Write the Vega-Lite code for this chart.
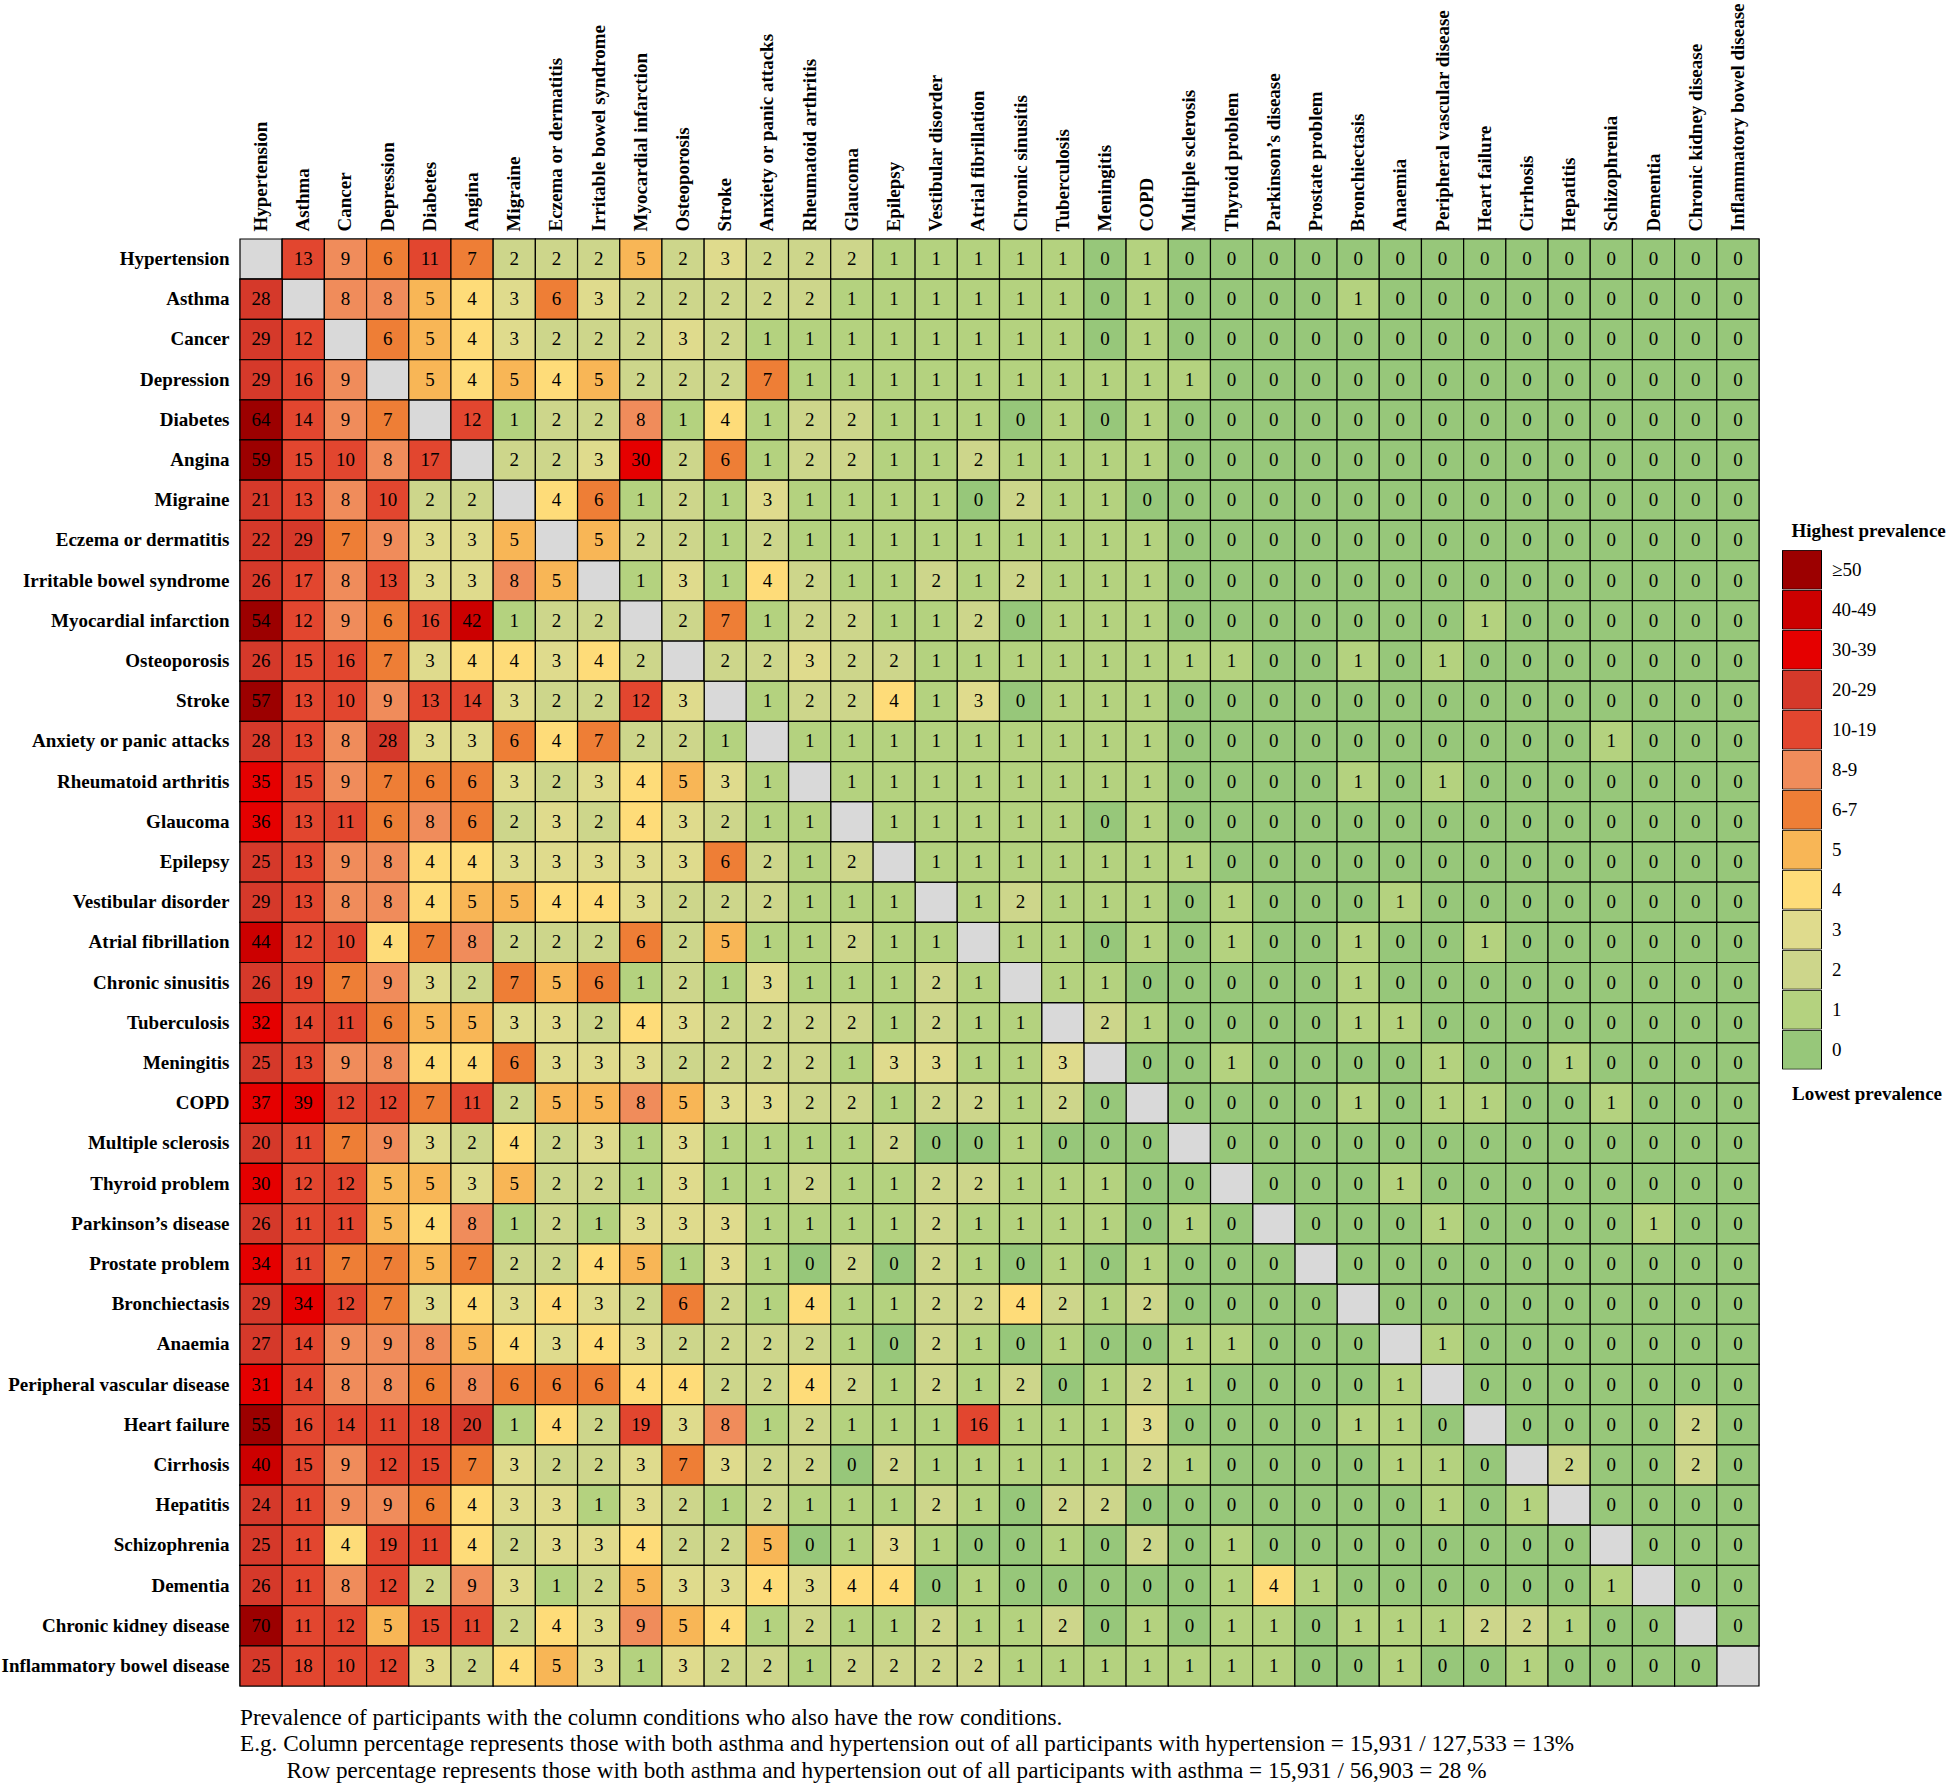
{
"$schema":"https://vega.github.io/schema/vega-lite/v6.json",
"autosize":{"type":"none"},
"width":1519,"height":1447,
"padding":{"left":240,"top":239,"right":187,"bottom":99},
"background":"white",
"config":{"view":{"stroke":null},"font":"Liberation Serif"},
"title":{"text":["Prevalence of participants with the column conditions who also have the row conditions.","E.g. Column percentage represents those with both asthma and hypertension out of all participants with hypertension = 15,931 / 127,533 = 13%","\u200b\u00a0\u00a0\u00a0\u00a0\u00a0\u00a0\u00a0\u00a0Row percentage represents those with both asthma and hypertension out of all participants with asthma = 15,931 / 56,903 = 28 %"],"orient":"bottom","anchor":"start","frame":"group","font":"Liberation Serif","fontSize":23.2,"fontWeight":"normal","color":"black","lineHeight":26.5,"offset":20,"baseline":"top"},
"datasets":{
"names":[{"i":0,"name":"Hypertension"},{"i":1,"name":"Asthma"},{"i":2,"name":"Cancer"},{"i":3,"name":"Depression"},{"i":4,"name":"Diabetes"},{"i":5,"name":"Angina"},{"i":6,"name":"Migraine"},{"i":7,"name":"Eczema or dermatitis"},{"i":8,"name":"Irritable bowel syndrome"},{"i":9,"name":"Myocardial infarction"},{"i":10,"name":"Osteoporosis"},{"i":11,"name":"Stroke"},{"i":12,"name":"Anxiety or panic attacks"},{"i":13,"name":"Rheumatoid arthritis"},{"i":14,"name":"Glaucoma"},{"i":15,"name":"Epilepsy"},{"i":16,"name":"Vestibular disorder"},{"i":17,"name":"Atrial fibrillation"},{"i":18,"name":"Chronic sinusitis"},{"i":19,"name":"Tuberculosis"},{"i":20,"name":"Meningitis"},{"i":21,"name":"COPD"},{"i":22,"name":"Multiple sclerosis"},{"i":23,"name":"Thyroid problem"},{"i":24,"name":"Parkinson’s disease"},{"i":25,"name":"Prostate problem"},{"i":26,"name":"Bronchiectasis"},{"i":27,"name":"Anaemia"},{"i":28,"name":"Peripheral vascular disease"},{"i":29,"name":"Heart failure"},{"i":30,"name":"Cirrhosis"},{"i":31,"name":"Hepatitis"},{"i":32,"name":"Schizophrenia"},{"i":33,"name":"Dementia"},{"i":34,"name":"Chronic kidney disease"},{"i":35,"name":"Inflammatory bowel disease"}],
"cells":[
{"r":0,"c":0,"v":null},{"r":0,"c":1,"v":13},{"r":0,"c":2,"v":9},{"r":0,"c":3,"v":6},{"r":0,"c":4,"v":11},{"r":0,"c":5,"v":7},{"r":0,"c":6,"v":2},{"r":0,"c":7,"v":2},{"r":0,"c":8,"v":2},{"r":0,"c":9,"v":5},{"r":0,"c":10,"v":2},{"r":0,"c":11,"v":3},{"r":0,"c":12,"v":2},{"r":0,"c":13,"v":2},{"r":0,"c":14,"v":2},{"r":0,"c":15,"v":1},{"r":0,"c":16,"v":1},{"r":0,"c":17,"v":1},{"r":0,"c":18,"v":1},{"r":0,"c":19,"v":1},{"r":0,"c":20,"v":0},{"r":0,"c":21,"v":1},{"r":0,"c":22,"v":0},{"r":0,"c":23,"v":0},{"r":0,"c":24,"v":0},{"r":0,"c":25,"v":0},{"r":0,"c":26,"v":0},{"r":0,"c":27,"v":0},{"r":0,"c":28,"v":0},{"r":0,"c":29,"v":0},{"r":0,"c":30,"v":0},{"r":0,"c":31,"v":0},{"r":0,"c":32,"v":0},{"r":0,"c":33,"v":0},{"r":0,"c":34,"v":0},{"r":0,"c":35,"v":0},
{"r":1,"c":0,"v":28},{"r":1,"c":1,"v":null},{"r":1,"c":2,"v":8},{"r":1,"c":3,"v":8},{"r":1,"c":4,"v":5},{"r":1,"c":5,"v":4},{"r":1,"c":6,"v":3},{"r":1,"c":7,"v":6},{"r":1,"c":8,"v":3},{"r":1,"c":9,"v":2},{"r":1,"c":10,"v":2},{"r":1,"c":11,"v":2},{"r":1,"c":12,"v":2},{"r":1,"c":13,"v":2},{"r":1,"c":14,"v":1},{"r":1,"c":15,"v":1},{"r":1,"c":16,"v":1},{"r":1,"c":17,"v":1},{"r":1,"c":18,"v":1},{"r":1,"c":19,"v":1},{"r":1,"c":20,"v":0},{"r":1,"c":21,"v":1},{"r":1,"c":22,"v":0},{"r":1,"c":23,"v":0},{"r":1,"c":24,"v":0},{"r":1,"c":25,"v":0},{"r":1,"c":26,"v":1},{"r":1,"c":27,"v":0},{"r":1,"c":28,"v":0},{"r":1,"c":29,"v":0},{"r":1,"c":30,"v":0},{"r":1,"c":31,"v":0},{"r":1,"c":32,"v":0},{"r":1,"c":33,"v":0},{"r":1,"c":34,"v":0},{"r":1,"c":35,"v":0},
{"r":2,"c":0,"v":29},{"r":2,"c":1,"v":12},{"r":2,"c":2,"v":null},{"r":2,"c":3,"v":6},{"r":2,"c":4,"v":5},{"r":2,"c":5,"v":4},{"r":2,"c":6,"v":3},{"r":2,"c":7,"v":2},{"r":2,"c":8,"v":2},{"r":2,"c":9,"v":2},{"r":2,"c":10,"v":3},{"r":2,"c":11,"v":2},{"r":2,"c":12,"v":1},{"r":2,"c":13,"v":1},{"r":2,"c":14,"v":1},{"r":2,"c":15,"v":1},{"r":2,"c":16,"v":1},{"r":2,"c":17,"v":1},{"r":2,"c":18,"v":1},{"r":2,"c":19,"v":1},{"r":2,"c":20,"v":0},{"r":2,"c":21,"v":1},{"r":2,"c":22,"v":0},{"r":2,"c":23,"v":0},{"r":2,"c":24,"v":0},{"r":2,"c":25,"v":0},{"r":2,"c":26,"v":0},{"r":2,"c":27,"v":0},{"r":2,"c":28,"v":0},{"r":2,"c":29,"v":0},{"r":2,"c":30,"v":0},{"r":2,"c":31,"v":0},{"r":2,"c":32,"v":0},{"r":2,"c":33,"v":0},{"r":2,"c":34,"v":0},{"r":2,"c":35,"v":0},
{"r":3,"c":0,"v":29},{"r":3,"c":1,"v":16},{"r":3,"c":2,"v":9},{"r":3,"c":3,"v":null},{"r":3,"c":4,"v":5},{"r":3,"c":5,"v":4},{"r":3,"c":6,"v":5},{"r":3,"c":7,"v":4},{"r":3,"c":8,"v":5},{"r":3,"c":9,"v":2},{"r":3,"c":10,"v":2},{"r":3,"c":11,"v":2},{"r":3,"c":12,"v":7},{"r":3,"c":13,"v":1},{"r":3,"c":14,"v":1},{"r":3,"c":15,"v":1},{"r":3,"c":16,"v":1},{"r":3,"c":17,"v":1},{"r":3,"c":18,"v":1},{"r":3,"c":19,"v":1},{"r":3,"c":20,"v":1},{"r":3,"c":21,"v":1},{"r":3,"c":22,"v":1},{"r":3,"c":23,"v":0},{"r":3,"c":24,"v":0},{"r":3,"c":25,"v":0},{"r":3,"c":26,"v":0},{"r":3,"c":27,"v":0},{"r":3,"c":28,"v":0},{"r":3,"c":29,"v":0},{"r":3,"c":30,"v":0},{"r":3,"c":31,"v":0},{"r":3,"c":32,"v":0},{"r":3,"c":33,"v":0},{"r":3,"c":34,"v":0},{"r":3,"c":35,"v":0},
{"r":4,"c":0,"v":64},{"r":4,"c":1,"v":14},{"r":4,"c":2,"v":9},{"r":4,"c":3,"v":7},{"r":4,"c":4,"v":null},{"r":4,"c":5,"v":12},{"r":4,"c":6,"v":1},{"r":4,"c":7,"v":2},{"r":4,"c":8,"v":2},{"r":4,"c":9,"v":8},{"r":4,"c":10,"v":1},{"r":4,"c":11,"v":4},{"r":4,"c":12,"v":1},{"r":4,"c":13,"v":2},{"r":4,"c":14,"v":2},{"r":4,"c":15,"v":1},{"r":4,"c":16,"v":1},{"r":4,"c":17,"v":1},{"r":4,"c":18,"v":0},{"r":4,"c":19,"v":1},{"r":4,"c":20,"v":0},{"r":4,"c":21,"v":1},{"r":4,"c":22,"v":0},{"r":4,"c":23,"v":0},{"r":4,"c":24,"v":0},{"r":4,"c":25,"v":0},{"r":4,"c":26,"v":0},{"r":4,"c":27,"v":0},{"r":4,"c":28,"v":0},{"r":4,"c":29,"v":0},{"r":4,"c":30,"v":0},{"r":4,"c":31,"v":0},{"r":4,"c":32,"v":0},{"r":4,"c":33,"v":0},{"r":4,"c":34,"v":0},{"r":4,"c":35,"v":0},
{"r":5,"c":0,"v":59},{"r":5,"c":1,"v":15},{"r":5,"c":2,"v":10},{"r":5,"c":3,"v":8},{"r":5,"c":4,"v":17},{"r":5,"c":5,"v":null},{"r":5,"c":6,"v":2},{"r":5,"c":7,"v":2},{"r":5,"c":8,"v":3},{"r":5,"c":9,"v":30},{"r":5,"c":10,"v":2},{"r":5,"c":11,"v":6},{"r":5,"c":12,"v":1},{"r":5,"c":13,"v":2},{"r":5,"c":14,"v":2},{"r":5,"c":15,"v":1},{"r":5,"c":16,"v":1},{"r":5,"c":17,"v":2},{"r":5,"c":18,"v":1},{"r":5,"c":19,"v":1},{"r":5,"c":20,"v":1},{"r":5,"c":21,"v":1},{"r":5,"c":22,"v":0},{"r":5,"c":23,"v":0},{"r":5,"c":24,"v":0},{"r":5,"c":25,"v":0},{"r":5,"c":26,"v":0},{"r":5,"c":27,"v":0},{"r":5,"c":28,"v":0},{"r":5,"c":29,"v":0},{"r":5,"c":30,"v":0},{"r":5,"c":31,"v":0},{"r":5,"c":32,"v":0},{"r":5,"c":33,"v":0},{"r":5,"c":34,"v":0},{"r":5,"c":35,"v":0},
{"r":6,"c":0,"v":21},{"r":6,"c":1,"v":13},{"r":6,"c":2,"v":8},{"r":6,"c":3,"v":10},{"r":6,"c":4,"v":2},{"r":6,"c":5,"v":2},{"r":6,"c":6,"v":null},{"r":6,"c":7,"v":4},{"r":6,"c":8,"v":6},{"r":6,"c":9,"v":1},{"r":6,"c":10,"v":2},{"r":6,"c":11,"v":1},{"r":6,"c":12,"v":3},{"r":6,"c":13,"v":1},{"r":6,"c":14,"v":1},{"r":6,"c":15,"v":1},{"r":6,"c":16,"v":1},{"r":6,"c":17,"v":0},{"r":6,"c":18,"v":2},{"r":6,"c":19,"v":1},{"r":6,"c":20,"v":1},{"r":6,"c":21,"v":0},{"r":6,"c":22,"v":0},{"r":6,"c":23,"v":0},{"r":6,"c":24,"v":0},{"r":6,"c":25,"v":0},{"r":6,"c":26,"v":0},{"r":6,"c":27,"v":0},{"r":6,"c":28,"v":0},{"r":6,"c":29,"v":0},{"r":6,"c":30,"v":0},{"r":6,"c":31,"v":0},{"r":6,"c":32,"v":0},{"r":6,"c":33,"v":0},{"r":6,"c":34,"v":0},{"r":6,"c":35,"v":0},
{"r":7,"c":0,"v":22},{"r":7,"c":1,"v":29},{"r":7,"c":2,"v":7},{"r":7,"c":3,"v":9},{"r":7,"c":4,"v":3},{"r":7,"c":5,"v":3},{"r":7,"c":6,"v":5},{"r":7,"c":7,"v":null},{"r":7,"c":8,"v":5},{"r":7,"c":9,"v":2},{"r":7,"c":10,"v":2},{"r":7,"c":11,"v":1},{"r":7,"c":12,"v":2},{"r":7,"c":13,"v":1},{"r":7,"c":14,"v":1},{"r":7,"c":15,"v":1},{"r":7,"c":16,"v":1},{"r":7,"c":17,"v":1},{"r":7,"c":18,"v":1},{"r":7,"c":19,"v":1},{"r":7,"c":20,"v":1},{"r":7,"c":21,"v":1},{"r":7,"c":22,"v":0},{"r":7,"c":23,"v":0},{"r":7,"c":24,"v":0},{"r":7,"c":25,"v":0},{"r":7,"c":26,"v":0},{"r":7,"c":27,"v":0},{"r":7,"c":28,"v":0},{"r":7,"c":29,"v":0},{"r":7,"c":30,"v":0},{"r":7,"c":31,"v":0},{"r":7,"c":32,"v":0},{"r":7,"c":33,"v":0},{"r":7,"c":34,"v":0},{"r":7,"c":35,"v":0},
{"r":8,"c":0,"v":26},{"r":8,"c":1,"v":17},{"r":8,"c":2,"v":8},{"r":8,"c":3,"v":13},{"r":8,"c":4,"v":3},{"r":8,"c":5,"v":3},{"r":8,"c":6,"v":8},{"r":8,"c":7,"v":5},{"r":8,"c":8,"v":null},{"r":8,"c":9,"v":1},{"r":8,"c":10,"v":3},{"r":8,"c":11,"v":1},{"r":8,"c":12,"v":4},{"r":8,"c":13,"v":2},{"r":8,"c":14,"v":1},{"r":8,"c":15,"v":1},{"r":8,"c":16,"v":2},{"r":8,"c":17,"v":1},{"r":8,"c":18,"v":2},{"r":8,"c":19,"v":1},{"r":8,"c":20,"v":1},{"r":8,"c":21,"v":1},{"r":8,"c":22,"v":0},{"r":8,"c":23,"v":0},{"r":8,"c":24,"v":0},{"r":8,"c":25,"v":0},{"r":8,"c":26,"v":0},{"r":8,"c":27,"v":0},{"r":8,"c":28,"v":0},{"r":8,"c":29,"v":0},{"r":8,"c":30,"v":0},{"r":8,"c":31,"v":0},{"r":8,"c":32,"v":0},{"r":8,"c":33,"v":0},{"r":8,"c":34,"v":0},{"r":8,"c":35,"v":0},
{"r":9,"c":0,"v":54},{"r":9,"c":1,"v":12},{"r":9,"c":2,"v":9},{"r":9,"c":3,"v":6},{"r":9,"c":4,"v":16},{"r":9,"c":5,"v":42},{"r":9,"c":6,"v":1},{"r":9,"c":7,"v":2},{"r":9,"c":8,"v":2},{"r":9,"c":9,"v":null},{"r":9,"c":10,"v":2},{"r":9,"c":11,"v":7},{"r":9,"c":12,"v":1},{"r":9,"c":13,"v":2},{"r":9,"c":14,"v":2},{"r":9,"c":15,"v":1},{"r":9,"c":16,"v":1},{"r":9,"c":17,"v":2},{"r":9,"c":18,"v":0},{"r":9,"c":19,"v":1},{"r":9,"c":20,"v":1},{"r":9,"c":21,"v":1},{"r":9,"c":22,"v":0},{"r":9,"c":23,"v":0},{"r":9,"c":24,"v":0},{"r":9,"c":25,"v":0},{"r":9,"c":26,"v":0},{"r":9,"c":27,"v":0},{"r":9,"c":28,"v":0},{"r":9,"c":29,"v":1},{"r":9,"c":30,"v":0},{"r":9,"c":31,"v":0},{"r":9,"c":32,"v":0},{"r":9,"c":33,"v":0},{"r":9,"c":34,"v":0},{"r":9,"c":35,"v":0},
{"r":10,"c":0,"v":26},{"r":10,"c":1,"v":15},{"r":10,"c":2,"v":16},{"r":10,"c":3,"v":7},{"r":10,"c":4,"v":3},{"r":10,"c":5,"v":4},{"r":10,"c":6,"v":4},{"r":10,"c":7,"v":3},{"r":10,"c":8,"v":4},{"r":10,"c":9,"v":2},{"r":10,"c":10,"v":null},{"r":10,"c":11,"v":2},{"r":10,"c":12,"v":2},{"r":10,"c":13,"v":3},{"r":10,"c":14,"v":2},{"r":10,"c":15,"v":2},{"r":10,"c":16,"v":1},{"r":10,"c":17,"v":1},{"r":10,"c":18,"v":1},{"r":10,"c":19,"v":1},{"r":10,"c":20,"v":1},{"r":10,"c":21,"v":1},{"r":10,"c":22,"v":1},{"r":10,"c":23,"v":1},{"r":10,"c":24,"v":0},{"r":10,"c":25,"v":0},{"r":10,"c":26,"v":1},{"r":10,"c":27,"v":0},{"r":10,"c":28,"v":1},{"r":10,"c":29,"v":0},{"r":10,"c":30,"v":0},{"r":10,"c":31,"v":0},{"r":10,"c":32,"v":0},{"r":10,"c":33,"v":0},{"r":10,"c":34,"v":0},{"r":10,"c":35,"v":0},
{"r":11,"c":0,"v":57},{"r":11,"c":1,"v":13},{"r":11,"c":2,"v":10},{"r":11,"c":3,"v":9},{"r":11,"c":4,"v":13},{"r":11,"c":5,"v":14},{"r":11,"c":6,"v":3},{"r":11,"c":7,"v":2},{"r":11,"c":8,"v":2},{"r":11,"c":9,"v":12},{"r":11,"c":10,"v":3},{"r":11,"c":11,"v":null},{"r":11,"c":12,"v":1},{"r":11,"c":13,"v":2},{"r":11,"c":14,"v":2},{"r":11,"c":15,"v":4},{"r":11,"c":16,"v":1},{"r":11,"c":17,"v":3},{"r":11,"c":18,"v":0},{"r":11,"c":19,"v":1},{"r":11,"c":20,"v":1},{"r":11,"c":21,"v":1},{"r":11,"c":22,"v":0},{"r":11,"c":23,"v":0},{"r":11,"c":24,"v":0},{"r":11,"c":25,"v":0},{"r":11,"c":26,"v":0},{"r":11,"c":27,"v":0},{"r":11,"c":28,"v":0},{"r":11,"c":29,"v":0},{"r":11,"c":30,"v":0},{"r":11,"c":31,"v":0},{"r":11,"c":32,"v":0},{"r":11,"c":33,"v":0},{"r":11,"c":34,"v":0},{"r":11,"c":35,"v":0},
{"r":12,"c":0,"v":28},{"r":12,"c":1,"v":13},{"r":12,"c":2,"v":8},{"r":12,"c":3,"v":28},{"r":12,"c":4,"v":3},{"r":12,"c":5,"v":3},{"r":12,"c":6,"v":6},{"r":12,"c":7,"v":4},{"r":12,"c":8,"v":7},{"r":12,"c":9,"v":2},{"r":12,"c":10,"v":2},{"r":12,"c":11,"v":1},{"r":12,"c":12,"v":null},{"r":12,"c":13,"v":1},{"r":12,"c":14,"v":1},{"r":12,"c":15,"v":1},{"r":12,"c":16,"v":1},{"r":12,"c":17,"v":1},{"r":12,"c":18,"v":1},{"r":12,"c":19,"v":1},{"r":12,"c":20,"v":1},{"r":12,"c":21,"v":1},{"r":12,"c":22,"v":0},{"r":12,"c":23,"v":0},{"r":12,"c":24,"v":0},{"r":12,"c":25,"v":0},{"r":12,"c":26,"v":0},{"r":12,"c":27,"v":0},{"r":12,"c":28,"v":0},{"r":12,"c":29,"v":0},{"r":12,"c":30,"v":0},{"r":12,"c":31,"v":0},{"r":12,"c":32,"v":1},{"r":12,"c":33,"v":0},{"r":12,"c":34,"v":0},{"r":12,"c":35,"v":0},
{"r":13,"c":0,"v":35},{"r":13,"c":1,"v":15},{"r":13,"c":2,"v":9},{"r":13,"c":3,"v":7},{"r":13,"c":4,"v":6},{"r":13,"c":5,"v":6},{"r":13,"c":6,"v":3},{"r":13,"c":7,"v":2},{"r":13,"c":8,"v":3},{"r":13,"c":9,"v":4},{"r":13,"c":10,"v":5},{"r":13,"c":11,"v":3},{"r":13,"c":12,"v":1},{"r":13,"c":13,"v":null},{"r":13,"c":14,"v":1},{"r":13,"c":15,"v":1},{"r":13,"c":16,"v":1},{"r":13,"c":17,"v":1},{"r":13,"c":18,"v":1},{"r":13,"c":19,"v":1},{"r":13,"c":20,"v":1},{"r":13,"c":21,"v":1},{"r":13,"c":22,"v":0},{"r":13,"c":23,"v":0},{"r":13,"c":24,"v":0},{"r":13,"c":25,"v":0},{"r":13,"c":26,"v":1},{"r":13,"c":27,"v":0},{"r":13,"c":28,"v":1},{"r":13,"c":29,"v":0},{"r":13,"c":30,"v":0},{"r":13,"c":31,"v":0},{"r":13,"c":32,"v":0},{"r":13,"c":33,"v":0},{"r":13,"c":34,"v":0},{"r":13,"c":35,"v":0},
{"r":14,"c":0,"v":36},{"r":14,"c":1,"v":13},{"r":14,"c":2,"v":11},{"r":14,"c":3,"v":6},{"r":14,"c":4,"v":8},{"r":14,"c":5,"v":6},{"r":14,"c":6,"v":2},{"r":14,"c":7,"v":3},{"r":14,"c":8,"v":2},{"r":14,"c":9,"v":4},{"r":14,"c":10,"v":3},{"r":14,"c":11,"v":2},{"r":14,"c":12,"v":1},{"r":14,"c":13,"v":1},{"r":14,"c":14,"v":null},{"r":14,"c":15,"v":1},{"r":14,"c":16,"v":1},{"r":14,"c":17,"v":1},{"r":14,"c":18,"v":1},{"r":14,"c":19,"v":1},{"r":14,"c":20,"v":0},{"r":14,"c":21,"v":1},{"r":14,"c":22,"v":0},{"r":14,"c":23,"v":0},{"r":14,"c":24,"v":0},{"r":14,"c":25,"v":0},{"r":14,"c":26,"v":0},{"r":14,"c":27,"v":0},{"r":14,"c":28,"v":0},{"r":14,"c":29,"v":0},{"r":14,"c":30,"v":0},{"r":14,"c":31,"v":0},{"r":14,"c":32,"v":0},{"r":14,"c":33,"v":0},{"r":14,"c":34,"v":0},{"r":14,"c":35,"v":0},
{"r":15,"c":0,"v":25},{"r":15,"c":1,"v":13},{"r":15,"c":2,"v":9},{"r":15,"c":3,"v":8},{"r":15,"c":4,"v":4},{"r":15,"c":5,"v":4},{"r":15,"c":6,"v":3},{"r":15,"c":7,"v":3},{"r":15,"c":8,"v":3},{"r":15,"c":9,"v":3},{"r":15,"c":10,"v":3},{"r":15,"c":11,"v":6},{"r":15,"c":12,"v":2},{"r":15,"c":13,"v":1},{"r":15,"c":14,"v":2},{"r":15,"c":15,"v":null},{"r":15,"c":16,"v":1},{"r":15,"c":17,"v":1},{"r":15,"c":18,"v":1},{"r":15,"c":19,"v":1},{"r":15,"c":20,"v":1},{"r":15,"c":21,"v":1},{"r":15,"c":22,"v":1},{"r":15,"c":23,"v":0},{"r":15,"c":24,"v":0},{"r":15,"c":25,"v":0},{"r":15,"c":26,"v":0},{"r":15,"c":27,"v":0},{"r":15,"c":28,"v":0},{"r":15,"c":29,"v":0},{"r":15,"c":30,"v":0},{"r":15,"c":31,"v":0},{"r":15,"c":32,"v":0},{"r":15,"c":33,"v":0},{"r":15,"c":34,"v":0},{"r":15,"c":35,"v":0},
{"r":16,"c":0,"v":29},{"r":16,"c":1,"v":13},{"r":16,"c":2,"v":8},{"r":16,"c":3,"v":8},{"r":16,"c":4,"v":4},{"r":16,"c":5,"v":5},{"r":16,"c":6,"v":5},{"r":16,"c":7,"v":4},{"r":16,"c":8,"v":4},{"r":16,"c":9,"v":3},{"r":16,"c":10,"v":2},{"r":16,"c":11,"v":2},{"r":16,"c":12,"v":2},{"r":16,"c":13,"v":1},{"r":16,"c":14,"v":1},{"r":16,"c":15,"v":1},{"r":16,"c":16,"v":null},{"r":16,"c":17,"v":1},{"r":16,"c":18,"v":2},{"r":16,"c":19,"v":1},{"r":16,"c":20,"v":1},{"r":16,"c":21,"v":1},{"r":16,"c":22,"v":0},{"r":16,"c":23,"v":1},{"r":16,"c":24,"v":0},{"r":16,"c":25,"v":0},{"r":16,"c":26,"v":0},{"r":16,"c":27,"v":1},{"r":16,"c":28,"v":0},{"r":16,"c":29,"v":0},{"r":16,"c":30,"v":0},{"r":16,"c":31,"v":0},{"r":16,"c":32,"v":0},{"r":16,"c":33,"v":0},{"r":16,"c":34,"v":0},{"r":16,"c":35,"v":0},
{"r":17,"c":0,"v":44},{"r":17,"c":1,"v":12},{"r":17,"c":2,"v":10},{"r":17,"c":3,"v":4},{"r":17,"c":4,"v":7},{"r":17,"c":5,"v":8},{"r":17,"c":6,"v":2},{"r":17,"c":7,"v":2},{"r":17,"c":8,"v":2},{"r":17,"c":9,"v":6},{"r":17,"c":10,"v":2},{"r":17,"c":11,"v":5},{"r":17,"c":12,"v":1},{"r":17,"c":13,"v":1},{"r":17,"c":14,"v":2},{"r":17,"c":15,"v":1},{"r":17,"c":16,"v":1},{"r":17,"c":17,"v":null},{"r":17,"c":18,"v":1},{"r":17,"c":19,"v":1},{"r":17,"c":20,"v":0},{"r":17,"c":21,"v":1},{"r":17,"c":22,"v":0},{"r":17,"c":23,"v":1},{"r":17,"c":24,"v":0},{"r":17,"c":25,"v":0},{"r":17,"c":26,"v":1},{"r":17,"c":27,"v":0},{"r":17,"c":28,"v":0},{"r":17,"c":29,"v":1},{"r":17,"c":30,"v":0},{"r":17,"c":31,"v":0},{"r":17,"c":32,"v":0},{"r":17,"c":33,"v":0},{"r":17,"c":34,"v":0},{"r":17,"c":35,"v":0},
{"r":18,"c":0,"v":26},{"r":18,"c":1,"v":19},{"r":18,"c":2,"v":7},{"r":18,"c":3,"v":9},{"r":18,"c":4,"v":3},{"r":18,"c":5,"v":2},{"r":18,"c":6,"v":7},{"r":18,"c":7,"v":5},{"r":18,"c":8,"v":6},{"r":18,"c":9,"v":1},{"r":18,"c":10,"v":2},{"r":18,"c":11,"v":1},{"r":18,"c":12,"v":3},{"r":18,"c":13,"v":1},{"r":18,"c":14,"v":1},{"r":18,"c":15,"v":1},{"r":18,"c":16,"v":2},{"r":18,"c":17,"v":1},{"r":18,"c":18,"v":null},{"r":18,"c":19,"v":1},{"r":18,"c":20,"v":1},{"r":18,"c":21,"v":0},{"r":18,"c":22,"v":0},{"r":18,"c":23,"v":0},{"r":18,"c":24,"v":0},{"r":18,"c":25,"v":0},{"r":18,"c":26,"v":1},{"r":18,"c":27,"v":0},{"r":18,"c":28,"v":0},{"r":18,"c":29,"v":0},{"r":18,"c":30,"v":0},{"r":18,"c":31,"v":0},{"r":18,"c":32,"v":0},{"r":18,"c":33,"v":0},{"r":18,"c":34,"v":0},{"r":18,"c":35,"v":0},
{"r":19,"c":0,"v":32},{"r":19,"c":1,"v":14},{"r":19,"c":2,"v":11},{"r":19,"c":3,"v":6},{"r":19,"c":4,"v":5},{"r":19,"c":5,"v":5},{"r":19,"c":6,"v":3},{"r":19,"c":7,"v":3},{"r":19,"c":8,"v":2},{"r":19,"c":9,"v":4},{"r":19,"c":10,"v":3},{"r":19,"c":11,"v":2},{"r":19,"c":12,"v":2},{"r":19,"c":13,"v":2},{"r":19,"c":14,"v":2},{"r":19,"c":15,"v":1},{"r":19,"c":16,"v":2},{"r":19,"c":17,"v":1},{"r":19,"c":18,"v":1},{"r":19,"c":19,"v":null},{"r":19,"c":20,"v":2},{"r":19,"c":21,"v":1},{"r":19,"c":22,"v":0},{"r":19,"c":23,"v":0},{"r":19,"c":24,"v":0},{"r":19,"c":25,"v":0},{"r":19,"c":26,"v":1},{"r":19,"c":27,"v":1},{"r":19,"c":28,"v":0},{"r":19,"c":29,"v":0},{"r":19,"c":30,"v":0},{"r":19,"c":31,"v":0},{"r":19,"c":32,"v":0},{"r":19,"c":33,"v":0},{"r":19,"c":34,"v":0},{"r":19,"c":35,"v":0},
{"r":20,"c":0,"v":25},{"r":20,"c":1,"v":13},{"r":20,"c":2,"v":9},{"r":20,"c":3,"v":8},{"r":20,"c":4,"v":4},{"r":20,"c":5,"v":4},{"r":20,"c":6,"v":6},{"r":20,"c":7,"v":3},{"r":20,"c":8,"v":3},{"r":20,"c":9,"v":3},{"r":20,"c":10,"v":2},{"r":20,"c":11,"v":2},{"r":20,"c":12,"v":2},{"r":20,"c":13,"v":2},{"r":20,"c":14,"v":1},{"r":20,"c":15,"v":3},{"r":20,"c":16,"v":3},{"r":20,"c":17,"v":1},{"r":20,"c":18,"v":1},{"r":20,"c":19,"v":3},{"r":20,"c":20,"v":null},{"r":20,"c":21,"v":0},{"r":20,"c":22,"v":0},{"r":20,"c":23,"v":1},{"r":20,"c":24,"v":0},{"r":20,"c":25,"v":0},{"r":20,"c":26,"v":0},{"r":20,"c":27,"v":0},{"r":20,"c":28,"v":1},{"r":20,"c":29,"v":0},{"r":20,"c":30,"v":0},{"r":20,"c":31,"v":1},{"r":20,"c":32,"v":0},{"r":20,"c":33,"v":0},{"r":20,"c":34,"v":0},{"r":20,"c":35,"v":0},
{"r":21,"c":0,"v":37},{"r":21,"c":1,"v":39},{"r":21,"c":2,"v":12},{"r":21,"c":3,"v":12},{"r":21,"c":4,"v":7},{"r":21,"c":5,"v":11},{"r":21,"c":6,"v":2},{"r":21,"c":7,"v":5},{"r":21,"c":8,"v":5},{"r":21,"c":9,"v":8},{"r":21,"c":10,"v":5},{"r":21,"c":11,"v":3},{"r":21,"c":12,"v":3},{"r":21,"c":13,"v":2},{"r":21,"c":14,"v":2},{"r":21,"c":15,"v":1},{"r":21,"c":16,"v":2},{"r":21,"c":17,"v":2},{"r":21,"c":18,"v":1},{"r":21,"c":19,"v":2},{"r":21,"c":20,"v":0},{"r":21,"c":21,"v":null},{"r":21,"c":22,"v":0},{"r":21,"c":23,"v":0},{"r":21,"c":24,"v":0},{"r":21,"c":25,"v":0},{"r":21,"c":26,"v":1},{"r":21,"c":27,"v":0},{"r":21,"c":28,"v":1},{"r":21,"c":29,"v":1},{"r":21,"c":30,"v":0},{"r":21,"c":31,"v":0},{"r":21,"c":32,"v":1},{"r":21,"c":33,"v":0},{"r":21,"c":34,"v":0},{"r":21,"c":35,"v":0},
{"r":22,"c":0,"v":20},{"r":22,"c":1,"v":11},{"r":22,"c":2,"v":7},{"r":22,"c":3,"v":9},{"r":22,"c":4,"v":3},{"r":22,"c":5,"v":2},{"r":22,"c":6,"v":4},{"r":22,"c":7,"v":2},{"r":22,"c":8,"v":3},{"r":22,"c":9,"v":1},{"r":22,"c":10,"v":3},{"r":22,"c":11,"v":1},{"r":22,"c":12,"v":1},{"r":22,"c":13,"v":1},{"r":22,"c":14,"v":1},{"r":22,"c":15,"v":2},{"r":22,"c":16,"v":0},{"r":22,"c":17,"v":0},{"r":22,"c":18,"v":1},{"r":22,"c":19,"v":0},{"r":22,"c":20,"v":0},{"r":22,"c":21,"v":0},{"r":22,"c":22,"v":null},{"r":22,"c":23,"v":0},{"r":22,"c":24,"v":0},{"r":22,"c":25,"v":0},{"r":22,"c":26,"v":0},{"r":22,"c":27,"v":0},{"r":22,"c":28,"v":0},{"r":22,"c":29,"v":0},{"r":22,"c":30,"v":0},{"r":22,"c":31,"v":0},{"r":22,"c":32,"v":0},{"r":22,"c":33,"v":0},{"r":22,"c":34,"v":0},{"r":22,"c":35,"v":0},
{"r":23,"c":0,"v":30},{"r":23,"c":1,"v":12},{"r":23,"c":2,"v":12},{"r":23,"c":3,"v":5},{"r":23,"c":4,"v":5},{"r":23,"c":5,"v":3},{"r":23,"c":6,"v":5},{"r":23,"c":7,"v":2},{"r":23,"c":8,"v":2},{"r":23,"c":9,"v":1},{"r":23,"c":10,"v":3},{"r":23,"c":11,"v":1},{"r":23,"c":12,"v":1},{"r":23,"c":13,"v":2},{"r":23,"c":14,"v":1},{"r":23,"c":15,"v":1},{"r":23,"c":16,"v":2},{"r":23,"c":17,"v":2},{"r":23,"c":18,"v":1},{"r":23,"c":19,"v":1},{"r":23,"c":20,"v":1},{"r":23,"c":21,"v":0},{"r":23,"c":22,"v":0},{"r":23,"c":23,"v":null},{"r":23,"c":24,"v":0},{"r":23,"c":25,"v":0},{"r":23,"c":26,"v":0},{"r":23,"c":27,"v":1},{"r":23,"c":28,"v":0},{"r":23,"c":29,"v":0},{"r":23,"c":30,"v":0},{"r":23,"c":31,"v":0},{"r":23,"c":32,"v":0},{"r":23,"c":33,"v":0},{"r":23,"c":34,"v":0},{"r":23,"c":35,"v":0},
{"r":24,"c":0,"v":26},{"r":24,"c":1,"v":11},{"r":24,"c":2,"v":11},{"r":24,"c":3,"v":5},{"r":24,"c":4,"v":4},{"r":24,"c":5,"v":8},{"r":24,"c":6,"v":1},{"r":24,"c":7,"v":2},{"r":24,"c":8,"v":1},{"r":24,"c":9,"v":3},{"r":24,"c":10,"v":3},{"r":24,"c":11,"v":3},{"r":24,"c":12,"v":1},{"r":24,"c":13,"v":1},{"r":24,"c":14,"v":1},{"r":24,"c":15,"v":1},{"r":24,"c":16,"v":2},{"r":24,"c":17,"v":1},{"r":24,"c":18,"v":1},{"r":24,"c":19,"v":1},{"r":24,"c":20,"v":1},{"r":24,"c":21,"v":0},{"r":24,"c":22,"v":1},{"r":24,"c":23,"v":0},{"r":24,"c":24,"v":null},{"r":24,"c":25,"v":0},{"r":24,"c":26,"v":0},{"r":24,"c":27,"v":0},{"r":24,"c":28,"v":1},{"r":24,"c":29,"v":0},{"r":24,"c":30,"v":0},{"r":24,"c":31,"v":0},{"r":24,"c":32,"v":0},{"r":24,"c":33,"v":1},{"r":24,"c":34,"v":0},{"r":24,"c":35,"v":0},
{"r":25,"c":0,"v":34},{"r":25,"c":1,"v":11},{"r":25,"c":2,"v":7},{"r":25,"c":3,"v":7},{"r":25,"c":4,"v":5},{"r":25,"c":5,"v":7},{"r":25,"c":6,"v":2},{"r":25,"c":7,"v":2},{"r":25,"c":8,"v":4},{"r":25,"c":9,"v":5},{"r":25,"c":10,"v":1},{"r":25,"c":11,"v":3},{"r":25,"c":12,"v":1},{"r":25,"c":13,"v":0},{"r":25,"c":14,"v":2},{"r":25,"c":15,"v":0},{"r":25,"c":16,"v":2},{"r":25,"c":17,"v":1},{"r":25,"c":18,"v":0},{"r":25,"c":19,"v":1},{"r":25,"c":20,"v":0},{"r":25,"c":21,"v":1},{"r":25,"c":22,"v":0},{"r":25,"c":23,"v":0},{"r":25,"c":24,"v":0},{"r":25,"c":25,"v":null},{"r":25,"c":26,"v":0},{"r":25,"c":27,"v":0},{"r":25,"c":28,"v":0},{"r":25,"c":29,"v":0},{"r":25,"c":30,"v":0},{"r":25,"c":31,"v":0},{"r":25,"c":32,"v":0},{"r":25,"c":33,"v":0},{"r":25,"c":34,"v":0},{"r":25,"c":35,"v":0},
{"r":26,"c":0,"v":29},{"r":26,"c":1,"v":34},{"r":26,"c":2,"v":12},{"r":26,"c":3,"v":7},{"r":26,"c":4,"v":3},{"r":26,"c":5,"v":4},{"r":26,"c":6,"v":3},{"r":26,"c":7,"v":4},{"r":26,"c":8,"v":3},{"r":26,"c":9,"v":2},{"r":26,"c":10,"v":6},{"r":26,"c":11,"v":2},{"r":26,"c":12,"v":1},{"r":26,"c":13,"v":4},{"r":26,"c":14,"v":1},{"r":26,"c":15,"v":1},{"r":26,"c":16,"v":2},{"r":26,"c":17,"v":2},{"r":26,"c":18,"v":4},{"r":26,"c":19,"v":2},{"r":26,"c":20,"v":1},{"r":26,"c":21,"v":2},{"r":26,"c":22,"v":0},{"r":26,"c":23,"v":0},{"r":26,"c":24,"v":0},{"r":26,"c":25,"v":0},{"r":26,"c":26,"v":null},{"r":26,"c":27,"v":0},{"r":26,"c":28,"v":0},{"r":26,"c":29,"v":0},{"r":26,"c":30,"v":0},{"r":26,"c":31,"v":0},{"r":26,"c":32,"v":0},{"r":26,"c":33,"v":0},{"r":26,"c":34,"v":0},{"r":26,"c":35,"v":0},
{"r":27,"c":0,"v":27},{"r":27,"c":1,"v":14},{"r":27,"c":2,"v":9},{"r":27,"c":3,"v":9},{"r":27,"c":4,"v":8},{"r":27,"c":5,"v":5},{"r":27,"c":6,"v":4},{"r":27,"c":7,"v":3},{"r":27,"c":8,"v":4},{"r":27,"c":9,"v":3},{"r":27,"c":10,"v":2},{"r":27,"c":11,"v":2},{"r":27,"c":12,"v":2},{"r":27,"c":13,"v":2},{"r":27,"c":14,"v":1},{"r":27,"c":15,"v":0},{"r":27,"c":16,"v":2},{"r":27,"c":17,"v":1},{"r":27,"c":18,"v":0},{"r":27,"c":19,"v":1},{"r":27,"c":20,"v":0},{"r":27,"c":21,"v":0},{"r":27,"c":22,"v":1},{"r":27,"c":23,"v":1},{"r":27,"c":24,"v":0},{"r":27,"c":25,"v":0},{"r":27,"c":26,"v":0},{"r":27,"c":27,"v":null},{"r":27,"c":28,"v":1},{"r":27,"c":29,"v":0},{"r":27,"c":30,"v":0},{"r":27,"c":31,"v":0},{"r":27,"c":32,"v":0},{"r":27,"c":33,"v":0},{"r":27,"c":34,"v":0},{"r":27,"c":35,"v":0},
{"r":28,"c":0,"v":31},{"r":28,"c":1,"v":14},{"r":28,"c":2,"v":8},{"r":28,"c":3,"v":8},{"r":28,"c":4,"v":6},{"r":28,"c":5,"v":8},{"r":28,"c":6,"v":6},{"r":28,"c":7,"v":6},{"r":28,"c":8,"v":6},{"r":28,"c":9,"v":4},{"r":28,"c":10,"v":4},{"r":28,"c":11,"v":2},{"r":28,"c":12,"v":2},{"r":28,"c":13,"v":4},{"r":28,"c":14,"v":2},{"r":28,"c":15,"v":1},{"r":28,"c":16,"v":2},{"r":28,"c":17,"v":1},{"r":28,"c":18,"v":2},{"r":28,"c":19,"v":0},{"r":28,"c":20,"v":1},{"r":28,"c":21,"v":2},{"r":28,"c":22,"v":1},{"r":28,"c":23,"v":0},{"r":28,"c":24,"v":0},{"r":28,"c":25,"v":0},{"r":28,"c":26,"v":0},{"r":28,"c":27,"v":1},{"r":28,"c":28,"v":null},{"r":28,"c":29,"v":0},{"r":28,"c":30,"v":0},{"r":28,"c":31,"v":0},{"r":28,"c":32,"v":0},{"r":28,"c":33,"v":0},{"r":28,"c":34,"v":0},{"r":28,"c":35,"v":0},
{"r":29,"c":0,"v":55},{"r":29,"c":1,"v":16},{"r":29,"c":2,"v":14},{"r":29,"c":3,"v":11},{"r":29,"c":4,"v":18},{"r":29,"c":5,"v":20},{"r":29,"c":6,"v":1},{"r":29,"c":7,"v":4},{"r":29,"c":8,"v":2},{"r":29,"c":9,"v":19},{"r":29,"c":10,"v":3},{"r":29,"c":11,"v":8},{"r":29,"c":12,"v":1},{"r":29,"c":13,"v":2},{"r":29,"c":14,"v":1},{"r":29,"c":15,"v":1},{"r":29,"c":16,"v":1},{"r":29,"c":17,"v":16},{"r":29,"c":18,"v":1},{"r":29,"c":19,"v":1},{"r":29,"c":20,"v":1},{"r":29,"c":21,"v":3},{"r":29,"c":22,"v":0},{"r":29,"c":23,"v":0},{"r":29,"c":24,"v":0},{"r":29,"c":25,"v":0},{"r":29,"c":26,"v":1},{"r":29,"c":27,"v":1},{"r":29,"c":28,"v":0},{"r":29,"c":29,"v":null},{"r":29,"c":30,"v":0},{"r":29,"c":31,"v":0},{"r":29,"c":32,"v":0},{"r":29,"c":33,"v":0},{"r":29,"c":34,"v":2},{"r":29,"c":35,"v":0},
{"r":30,"c":0,"v":40},{"r":30,"c":1,"v":15},{"r":30,"c":2,"v":9},{"r":30,"c":3,"v":12},{"r":30,"c":4,"v":15},{"r":30,"c":5,"v":7},{"r":30,"c":6,"v":3},{"r":30,"c":7,"v":2},{"r":30,"c":8,"v":2},{"r":30,"c":9,"v":3},{"r":30,"c":10,"v":7},{"r":30,"c":11,"v":3},{"r":30,"c":12,"v":2},{"r":30,"c":13,"v":2},{"r":30,"c":14,"v":0},{"r":30,"c":15,"v":2},{"r":30,"c":16,"v":1},{"r":30,"c":17,"v":1},{"r":30,"c":18,"v":1},{"r":30,"c":19,"v":1},{"r":30,"c":20,"v":1},{"r":30,"c":21,"v":2},{"r":30,"c":22,"v":1},{"r":30,"c":23,"v":0},{"r":30,"c":24,"v":0},{"r":30,"c":25,"v":0},{"r":30,"c":26,"v":0},{"r":30,"c":27,"v":1},{"r":30,"c":28,"v":1},{"r":30,"c":29,"v":0},{"r":30,"c":30,"v":null},{"r":30,"c":31,"v":2},{"r":30,"c":32,"v":0},{"r":30,"c":33,"v":0},{"r":30,"c":34,"v":2},{"r":30,"c":35,"v":0},
{"r":31,"c":0,"v":24},{"r":31,"c":1,"v":11},{"r":31,"c":2,"v":9},{"r":31,"c":3,"v":9},{"r":31,"c":4,"v":6},{"r":31,"c":5,"v":4},{"r":31,"c":6,"v":3},{"r":31,"c":7,"v":3},{"r":31,"c":8,"v":1},{"r":31,"c":9,"v":3},{"r":31,"c":10,"v":2},{"r":31,"c":11,"v":1},{"r":31,"c":12,"v":2},{"r":31,"c":13,"v":1},{"r":31,"c":14,"v":1},{"r":31,"c":15,"v":1},{"r":31,"c":16,"v":2},{"r":31,"c":17,"v":1},{"r":31,"c":18,"v":0},{"r":31,"c":19,"v":2},{"r":31,"c":20,"v":2},{"r":31,"c":21,"v":0},{"r":31,"c":22,"v":0},{"r":31,"c":23,"v":0},{"r":31,"c":24,"v":0},{"r":31,"c":25,"v":0},{"r":31,"c":26,"v":0},{"r":31,"c":27,"v":0},{"r":31,"c":28,"v":1},{"r":31,"c":29,"v":0},{"r":31,"c":30,"v":1},{"r":31,"c":31,"v":null},{"r":31,"c":32,"v":0},{"r":31,"c":33,"v":0},{"r":31,"c":34,"v":0},{"r":31,"c":35,"v":0},
{"r":32,"c":0,"v":25},{"r":32,"c":1,"v":11},{"r":32,"c":2,"v":4},{"r":32,"c":3,"v":19},{"r":32,"c":4,"v":11},{"r":32,"c":5,"v":4},{"r":32,"c":6,"v":2},{"r":32,"c":7,"v":3},{"r":32,"c":8,"v":3},{"r":32,"c":9,"v":4},{"r":32,"c":10,"v":2},{"r":32,"c":11,"v":2},{"r":32,"c":12,"v":5},{"r":32,"c":13,"v":0},{"r":32,"c":14,"v":1},{"r":32,"c":15,"v":3},{"r":32,"c":16,"v":1},{"r":32,"c":17,"v":0},{"r":32,"c":18,"v":0},{"r":32,"c":19,"v":1},{"r":32,"c":20,"v":0},{"r":32,"c":21,"v":2},{"r":32,"c":22,"v":0},{"r":32,"c":23,"v":1},{"r":32,"c":24,"v":0},{"r":32,"c":25,"v":0},{"r":32,"c":26,"v":0},{"r":32,"c":27,"v":0},{"r":32,"c":28,"v":0},{"r":32,"c":29,"v":0},{"r":32,"c":30,"v":0},{"r":32,"c":31,"v":0},{"r":32,"c":32,"v":null},{"r":32,"c":33,"v":0},{"r":32,"c":34,"v":0},{"r":32,"c":35,"v":0},
{"r":33,"c":0,"v":26},{"r":33,"c":1,"v":11},{"r":33,"c":2,"v":8},{"r":33,"c":3,"v":12},{"r":33,"c":4,"v":2},{"r":33,"c":5,"v":9},{"r":33,"c":6,"v":3},{"r":33,"c":7,"v":1},{"r":33,"c":8,"v":2},{"r":33,"c":9,"v":5},{"r":33,"c":10,"v":3},{"r":33,"c":11,"v":3},{"r":33,"c":12,"v":4},{"r":33,"c":13,"v":3},{"r":33,"c":14,"v":4},{"r":33,"c":15,"v":4},{"r":33,"c":16,"v":0},{"r":33,"c":17,"v":1},{"r":33,"c":18,"v":0},{"r":33,"c":19,"v":0},{"r":33,"c":20,"v":0},{"r":33,"c":21,"v":0},{"r":33,"c":22,"v":0},{"r":33,"c":23,"v":1},{"r":33,"c":24,"v":4},{"r":33,"c":25,"v":1},{"r":33,"c":26,"v":0},{"r":33,"c":27,"v":0},{"r":33,"c":28,"v":0},{"r":33,"c":29,"v":0},{"r":33,"c":30,"v":0},{"r":33,"c":31,"v":0},{"r":33,"c":32,"v":1},{"r":33,"c":33,"v":null},{"r":33,"c":34,"v":0},{"r":33,"c":35,"v":0},
{"r":34,"c":0,"v":70},{"r":34,"c":1,"v":11},{"r":34,"c":2,"v":12},{"r":34,"c":3,"v":5},{"r":34,"c":4,"v":15},{"r":34,"c":5,"v":11},{"r":34,"c":6,"v":2},{"r":34,"c":7,"v":4},{"r":34,"c":8,"v":3},{"r":34,"c":9,"v":9},{"r":34,"c":10,"v":5},{"r":34,"c":11,"v":4},{"r":34,"c":12,"v":1},{"r":34,"c":13,"v":2},{"r":34,"c":14,"v":1},{"r":34,"c":15,"v":1},{"r":34,"c":16,"v":2},{"r":34,"c":17,"v":1},{"r":34,"c":18,"v":1},{"r":34,"c":19,"v":2},{"r":34,"c":20,"v":0},{"r":34,"c":21,"v":1},{"r":34,"c":22,"v":0},{"r":34,"c":23,"v":1},{"r":34,"c":24,"v":1},{"r":34,"c":25,"v":0},{"r":34,"c":26,"v":1},{"r":34,"c":27,"v":1},{"r":34,"c":28,"v":1},{"r":34,"c":29,"v":2},{"r":34,"c":30,"v":2},{"r":34,"c":31,"v":1},{"r":34,"c":32,"v":0},{"r":34,"c":33,"v":0},{"r":34,"c":34,"v":null},{"r":34,"c":35,"v":0},
{"r":35,"c":0,"v":25},{"r":35,"c":1,"v":18},{"r":35,"c":2,"v":10},{"r":35,"c":3,"v":12},{"r":35,"c":4,"v":3},{"r":35,"c":5,"v":2},{"r":35,"c":6,"v":4},{"r":35,"c":7,"v":5},{"r":35,"c":8,"v":3},{"r":35,"c":9,"v":1},{"r":35,"c":10,"v":3},{"r":35,"c":11,"v":2},{"r":35,"c":12,"v":2},{"r":35,"c":13,"v":1},{"r":35,"c":14,"v":2},{"r":35,"c":15,"v":2},{"r":35,"c":16,"v":2},{"r":35,"c":17,"v":2},{"r":35,"c":18,"v":1},{"r":35,"c":19,"v":1},{"r":35,"c":20,"v":1},{"r":35,"c":21,"v":1},{"r":35,"c":22,"v":1},{"r":35,"c":23,"v":1},{"r":35,"c":24,"v":1},{"r":35,"c":25,"v":0},{"r":35,"c":26,"v":0},{"r":35,"c":27,"v":1},{"r":35,"c":28,"v":0},{"r":35,"c":29,"v":0},{"r":35,"c":30,"v":1},{"r":35,"c":31,"v":0},{"r":35,"c":32,"v":0},{"r":35,"c":33,"v":0},{"r":35,"c":34,"v":0},{"r":35,"c":35,"v":null}
]},
"data":{"name":"cells"},
"transform":[
{"lookup":"r","from":{"data":{"name":"names"},"key":"i","fields":["name"]},"as":["row"]},
{"lookup":"c","from":{"data":{"name":"names"},"key":"i","fields":["name"]},"as":["col"]}
],
"encoding":{
"x":{"field":"col","type":"nominal","sort":{"field":"c","op":"min","order":"ascending"},"scale":{"paddingInner":0,"paddingOuter":0},"axis":{"orient":"top","title":null,"labelAngle":-90,"ticks":false,"domain":false,"labelPadding":8,"labelFont":"Liberation Serif","labelFontSize":19,"labelFontWeight":"bold","labelColor":"black","labelLimit":400}},
"y":{"field":"row","type":"nominal","sort":{"field":"r","op":"min","order":"ascending"},"scale":{"paddingInner":0,"paddingOuter":0},"axis":{"orient":"left","title":null,"ticks":false,"domain":false,"labelPadding":11,"labelFont":"Liberation Serif","labelFontSize":19,"labelFontWeight":"bold","labelColor":"black","labelLimit":400}}
},
"layer":[
{"mark":{"type":"rect","fill":"#d9d9d9","stroke":"black","strokeWidth":1.2}},
{"transform":[{"filter":"isValid(datum.v)"}],
 "mark":{"type":"rect","strokeWidth":1.2},
 "encoding":{"fill":{"field":"v","type":"quantitative",
  "scale":{"type":"threshold","domain":[1,2,3,4,5,6,8,10,20,30,40,50],"range":["#97c77a","#b4d27f","#cdd68b","#dfdb8d","#fedc79","#f8b656","#ee7e36","#f08c5b","#e2462f","#d5392a","#e50000","#cc0000","#9c0000"]},
  "legend":{"type":"symbol","title":"\u200b\u00a0\u00a0Highest prevalence","orient":"none","legendX":1542,"legendY":283,"values":[50,40,30,20,10,8,6,5,4,3,2,1,0],
   "labelExpr":"datum.value >= 50 ? '≥50' : datum.value >= 40 ? '40-49' : datum.value >= 30 ? '30-39' : datum.value >= 20 ? '20-29' : datum.value >= 10 ? '10-19' : datum.value >= 8 ? '8-9' : datum.value >= 6 ? '6-7' : '' + datum.value",
   "symbolType":"square","symbolSize":1521,"symbolOffset":0,"symbolStrokeColor":"black","symbolStrokeWidth":1,"symbolOpacity":1,"rowPadding":0,"clipHeight":39.5,"labelOffset":10,"padding":0,
   "labelFont":"Liberation Serif","labelFontSize":19,"labelColor":"black","labelBaseline":"middle",
   "titleFont":"Liberation Serif","titleFontSize":19,"titleFontWeight":"bold","titleColor":"black","titlePadding":9,"titleLimit":400}},
  "stroke":{"field":"v","type":"quantitative",
  "scale":{"type":"threshold","domain":[1,2,3,4,5,6,8,10,20,30,40,50],"range":["black","black","black","black","black","black","black","black","black","black","black","black","black"]}}}},
{"transform":[{"filter":"isValid(datum.v)"}],
 "mark":{"type":"text","font":"Liberation Serif","fontSize":19,"color":"black","baseline":"middle","align":"center"},
 "encoding":{"text":{"field":"v","type":"quantitative"},
  "opacity":{"field":"r","type":"quantitative","scale":{"domain":[0,35],"range":[1,1]},
   "legend":{"type":"symbol","title":"Lowest prevalence","orient":"none","legendX":1552,"legendY":846,"values":[0],"labelExpr":"''","symbolSize":0,"symbolStrokeWidth":0,"symbolFillColor":"transparent","padding":0,
    "titleFont":"Liberation Serif","titleFontSize":19,"titleFontWeight":"bold","titleColor":"black","titleLimit":400}}}}
]
}
